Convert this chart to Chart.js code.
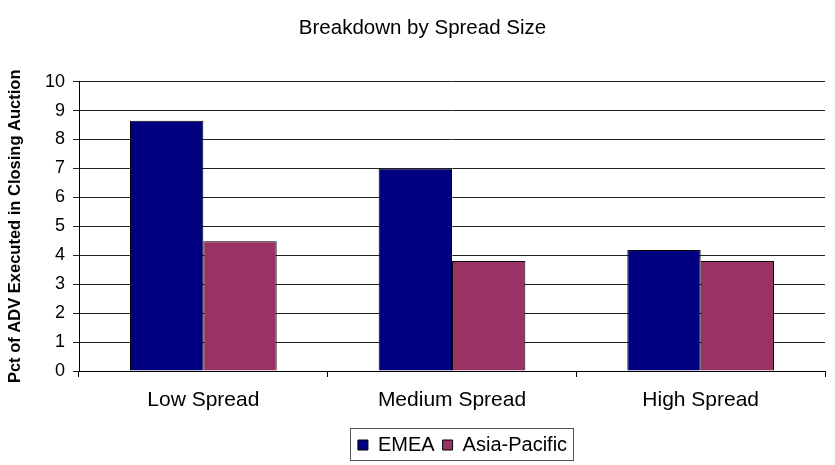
<!DOCTYPE html>
<html>
<head>
<meta charset="utf-8">
<script src="https://cdn.jsdelivr.net/npm/chart.js@4"></script>
<style>
  html, body { margin: 0; padding: 0; background: #fff; }
  #wrap { width: 835px; height: 465px; }
</style>
</head>
<body>
<div id="wrap"><canvas id="chart"></canvas></div>
<script>
// chart data
const categories = ["Low Spread", "Medium Spread", "High Spread"];
const emeaValues = [8.65, 7.0, 4.18];
const asiaValues = [4.48, 3.8, 3.8];
const seriesNames = ["EMEA", "Asia-Pacific"];

const font = "'Liberation Sans', Arial, sans-serif";

// the original legend and title sit right of centre; legend has a grey frame
const legendBox = {
  id: "legendBox",
  afterLayout(chart) {
    chart.legend.left += 50;
    chart.legend.right += 50;
    chart.titleBlock.left += 10;
    chart.titleBlock.right += 10;
  },
  afterDraw(chart) {
    const boxes = chart.legend.legendHitBoxes;
    if (!boxes || !boxes.length) return;
    let l = Infinity, t = Infinity, r = -Infinity, b = -Infinity;
    boxes.forEach((h) => {
      l = Math.min(l, h.left); t = Math.min(t, h.top);
      r = Math.max(r, h.left + h.width); b = Math.max(b, h.top + h.height);
    });
    const ctx = chart.ctx;
    ctx.save();
    ctx.strokeStyle = "#555";
    ctx.lineWidth = 1;
    ctx.strokeRect(Math.round(l - 8) + 0.5, Math.round(t - 7) + 0.5, Math.round(r - l + 14), Math.round(b - t + 12));
    ctx.restore();
  },
};

new Chart(document.getElementById("chart"), {
  type: "bar",
  data: {
    labels: categories,
    datasets: [
      {
        label: seriesNames[0],
        data: emeaValues,
        backgroundColor: "#000080",
        borderColor: "#000",
        borderWidth: 1,
      },
      {
        label: seriesNames[1],
        data: asiaValues,
        backgroundColor: "#993366",
        borderColor: "#000",
        borderWidth: 1,
      },
    ],
  },
  options: {
    responsive: true,
    maintainAspectRatio: false,
    animation: false,
    layout: { padding: { left: 0, right: 10, top: 0, bottom: 0 } },
    datasets: {
      bar: { categoryPercentage: 0.59, barPercentage: 1 },
    },
    plugins: {
      title: {
        display: true,
        text: "Breakdown by Spread Size",
        color: "#000",
        font: { family: font, size: 20.5, weight: "normal" },
        padding: { top: 16, bottom: 41 },
      },
      legend: {
        position: "bottom",
        labels: {
          color: "#000",
          font: { family: font, size: 20 },
          boxWidth: 10,
          boxHeight: 10,
          padding: 8,
        },
      },
      tooltip: { enabled: false },
    },
    scales: {
      x: {
        offset: true,
        grid: {
          offset: true,
          drawOnChartArea: false,
          color: "#000",
          tickLength: 6,
        },
        border: { color: "#000" },
        ticks: { color: "#000", font: { family: font, size: 21 }, padding: 11 },
        afterFit: (scale) => { scale.height = 56; },
      },
      y: {
        min: 0,
        max: 10,
        grid: { color: "#222", tickLength: 6 },
        border: { color: "#000" },
        ticks: { stepSize: 1, color: "#000", font: { family: font, size: 18 }, padding: 8 },
        title: {
          display: true,
          text: "Pct of ADV Executed in Closing Auction",
          color: "#000",
          font: { family: font, size: 16.5, weight: "bold" },
          padding: { top: 6, bottom: 3 },
        },
        afterFit: (scale) => { scale.width = 79; },
      },
    },
  },
  plugins: [legendBox],
});
</script>
</body>
</html>
